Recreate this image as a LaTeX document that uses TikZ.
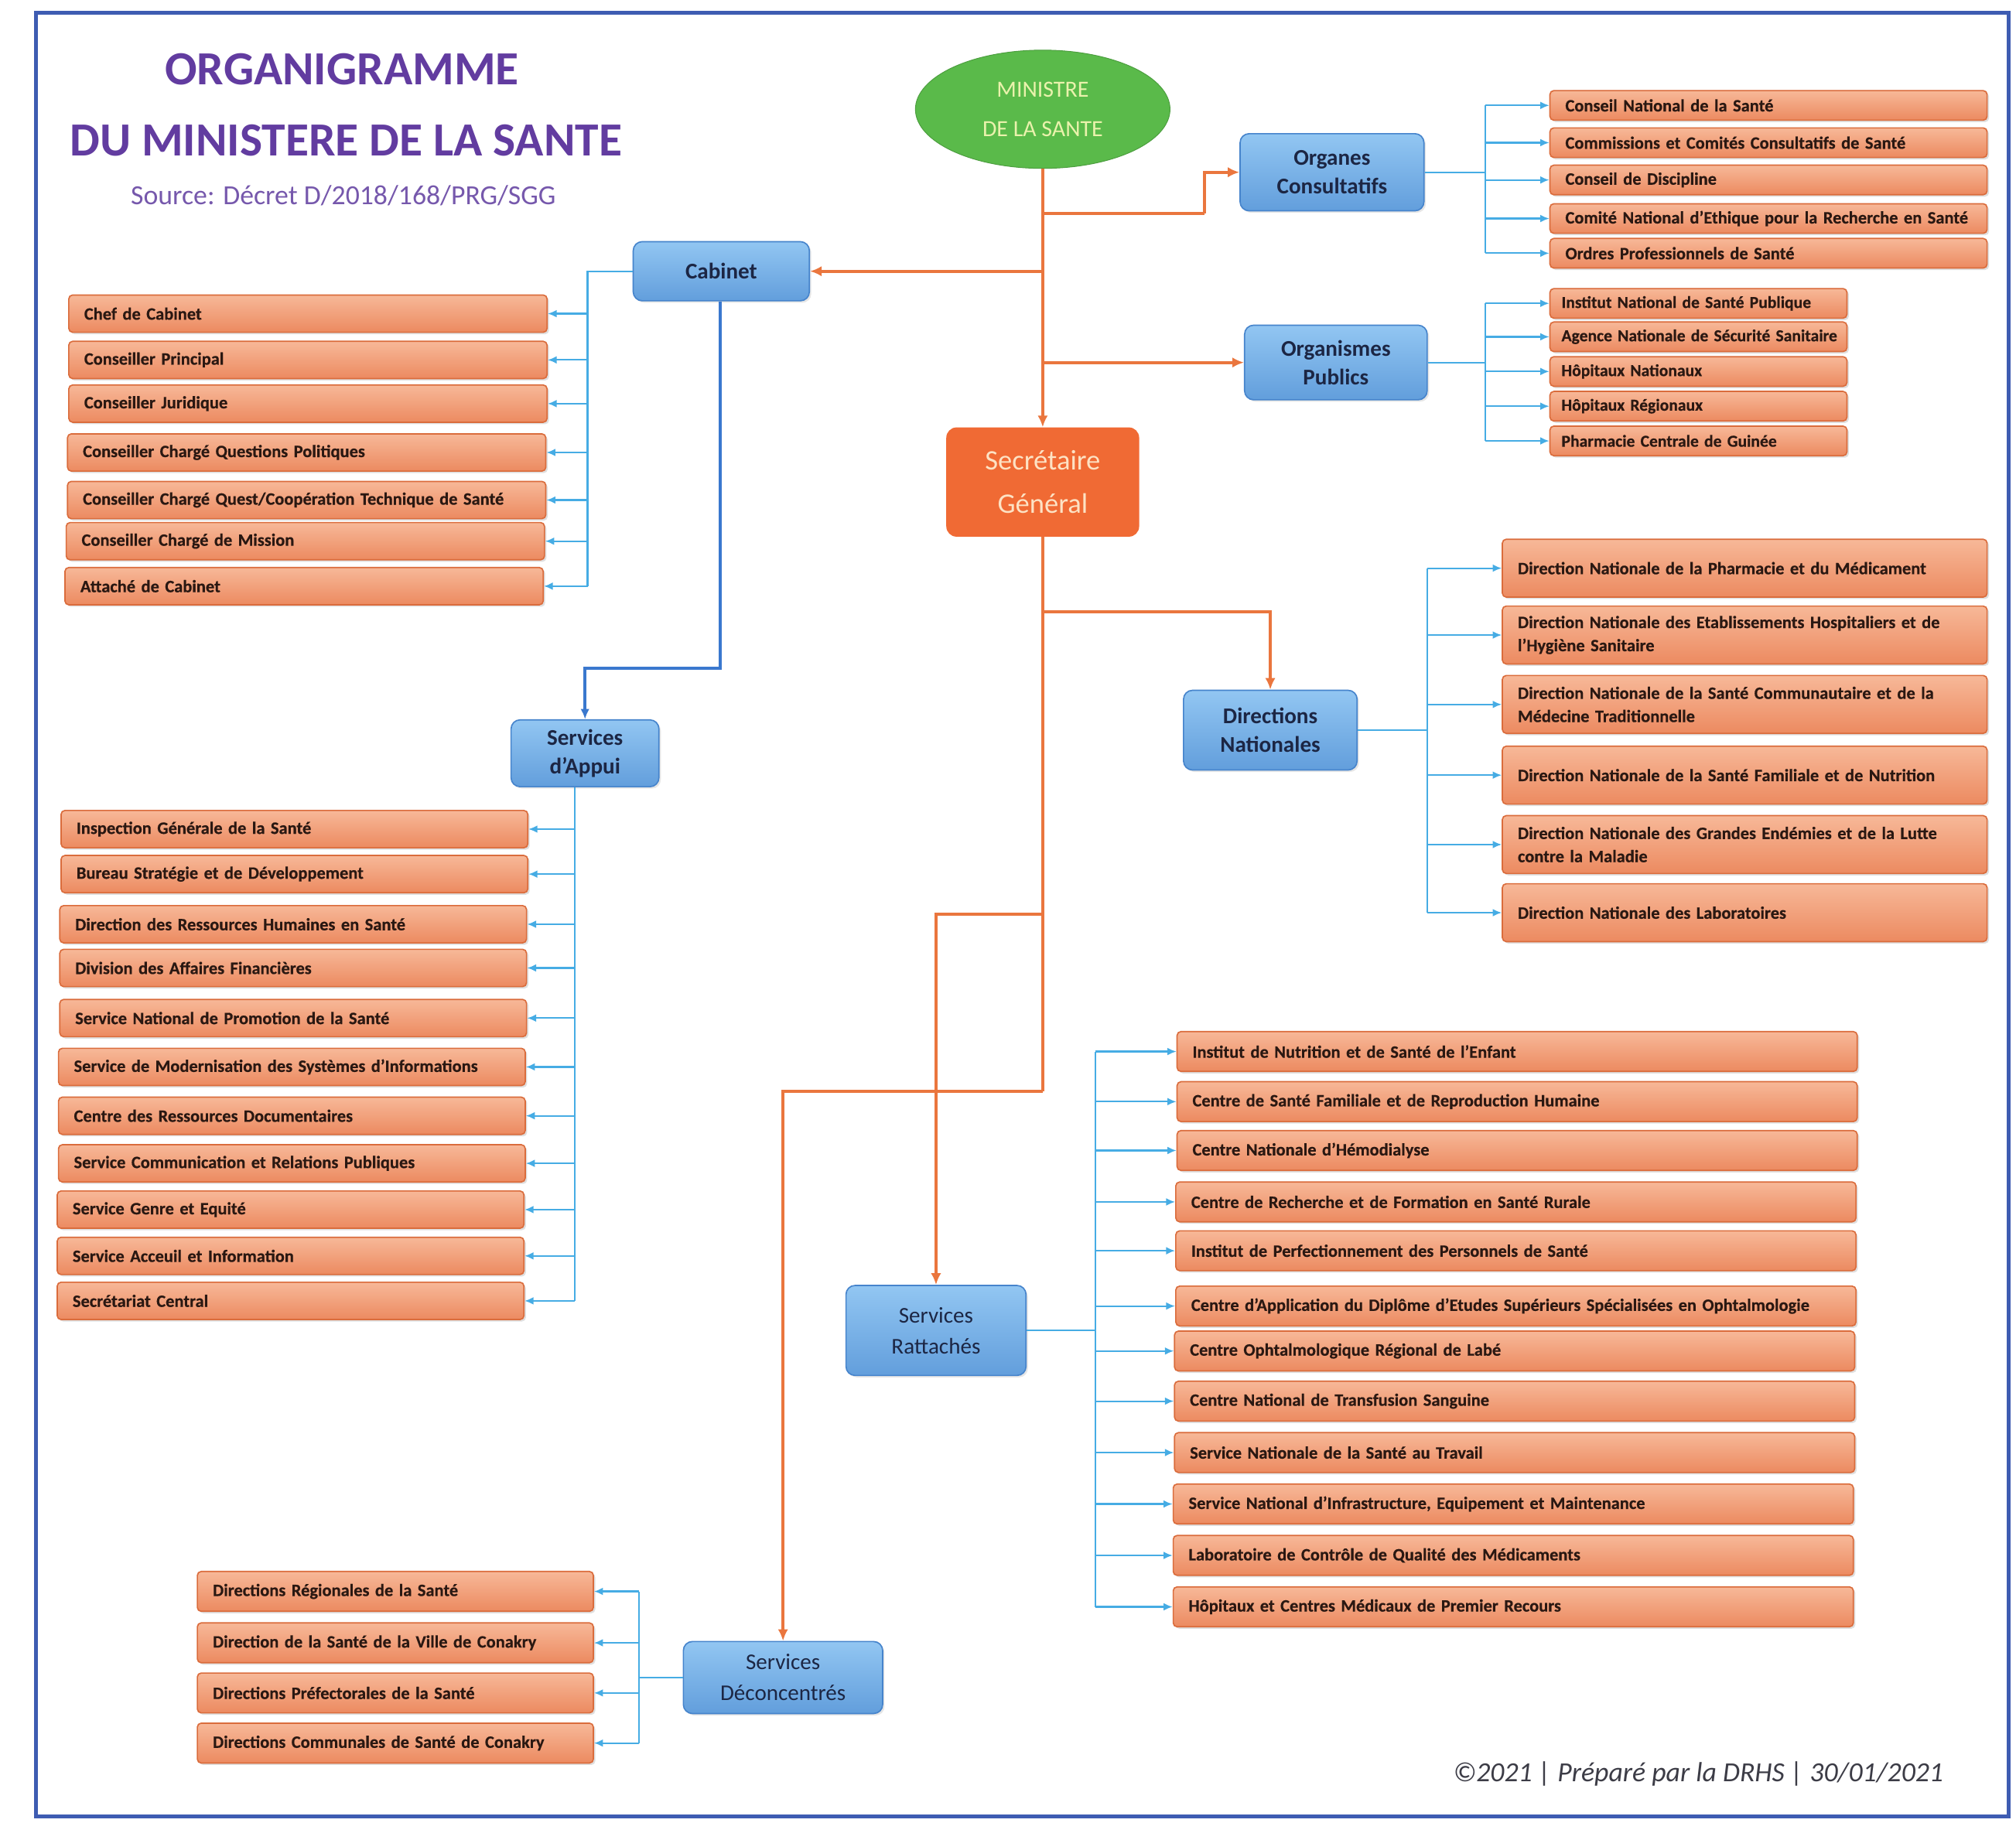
\documentclass[tikz,border=0pt]{standalone}
\usepackage{fontspec}
\setmainfont{Carlito}
\usetikzlibrary{arrows.meta,shapes.geometric,shadows}
\definecolor{itemtop}{RGB}{247,184,152}
\definecolor{itembot}{RGB}{236,138,96}
\definecolor{itemdraw}{RGB}{218,108,60}
\definecolor{itemtext}{RGB}{42,24,18}
\definecolor{cattop}{RGB}{146,198,242}
\definecolor{catbot}{RGB}{98,158,220}
\definecolor{catdraw}{RGB}{70,132,204}
\definecolor{cattext}{RGB}{28,38,68}
\definecolor{orgline}{RGB}{234,118,62}
\definecolor{bluline}{RGB}{70,172,228}
\definecolor{bluedark}{RGB}{58,120,206}
\definecolor{framecol}{RGB}{62,92,178}
\definecolor{titlecol}{RGB}{98,60,160}
\definecolor{srccol}{RGB}{118,88,172}
\definecolor{mingreen}{RGB}{90,186,74}
\definecolor{mintext}{RGB}{234,242,172}
\definecolor{sgfill}{RGB}{240,106,52}
\definecolor{sgtext}{RGB}{253,226,196}
\definecolor{foottext}{RGB}{60,60,70}
\begin{document}
\begin{tikzpicture}[x=1pt,y=-1pt,
  item/.style={draw=itemdraw, line width=1pt, rounded corners=3pt,
    top color=itemtop, bottom color=itembot, align=left,
    inner xsep=12pt, inner ysep=1pt, text=itemtext,
    font=\fontsize{13.5}{18}\selectfont\bfseries\addfontfeatures{FakeBold=0.5},
    drop shadow={shadow xshift=1.5pt, shadow yshift=-1.5pt, opacity=0.25}},
  ocitem/.style={item, anchor=west, minimum height=23pt, text width=316pt},
  opitem/.style={item, anchor=west, minimum height=23pt, inner xsep=9pt, text width=213pt,
    font=\fontsize{13}{16}\selectfont\bfseries\addfontfeatures{FakeBold=0.5}},
  cabitem/.style={item, anchor=west, minimum height=29pt, text width=348pt},
  appitem/.style={item, anchor=west, minimum height=29pt, text width=339pt},
  dnitem/.style={item, anchor=west, minimum height=45pt, text width=353pt},
  sritem/.style={item, anchor=west, minimum height=31pt, text width=505pt},
  sditem/.style={item, anchor=west, minimum height=31pt, text width=284pt},
  cat/.style={draw=catdraw, line width=1pt, rounded corners=7pt,
    top color=cattop, bottom color=catbot, text=cattext, align=center,
    font=\fontsize{17.5}{22}\selectfont\bfseries,
    drop shadow={shadow xshift=1.5pt, shadow yshift=-1.5pt, opacity=0.2}},
  catreg/.style={cat, font=\fontsize{17.5}{24}\selectfont},
  oline/.style={draw=orgline, line width=2.2pt},
  oarrow/.style={oline, -{Latex[length=9pt,width=8pt]}},
  bline/.style={draw=bluline, line width=1.3pt},
  barrow/.style={bline, -{Latex[length=7pt,width=6pt]}},
  bdark/.style={draw=bluedark, line width=2.2pt, -{Latex[length=8pt,width=7pt]}}
]
\useasboundingbox (0,0) rectangle (1568,1418);
\draw[framecol, line width=3pt] (28,10) rectangle (1562,1413);

% Title
\node[font=\fontsize{37}{40}\selectfont\bfseries, text=titlecol] (title1) at (266,54) {ORGANIGRAMME};
\node[font=\fontsize{37}{40}\selectfont\bfseries, text=titlecol] (title2) at (269,109) {DU MINISTERE DE LA SANTE};
\node[font=\fontsize{21.5}{24}\selectfont, text=srccol] (source) at (267,152) {Source: Décret D/2018/168/PRG/SGG};
\node[font=\fontsize{21.5}{24}\selectfont\itshape, text=foottext, anchor=east] (foot) at (1515,1380) {©2021 | Préparé par la DRHS | 30/01/2021};

% Top nodes
\node[ellipse, fill=mingreen, draw=mingreen!85!black, line width=0.6pt, minimum width=198pt, minimum height=92pt,
  text=mintext, font=\fontsize{18}{31}\selectfont, align=center] (min) at (811,85) {MINISTRE\\DE LA SANTE};
\node[rounded corners=8pt, fill=sgfill, minimum width=150pt, minimum height=85pt, text=sgtext,
  font=\fontsize{22}{34}\selectfont, align=center] (sg) at (811,375) {Secrétaire\\Général};

% Category boxes
\node[cat, minimum width=137pt, minimum height=46pt] (cab) at (561,211) {Cabinet};
\node[cat, minimum width=143pt, minimum height=60pt] (oc) at (1036,134) {Organes\\Consultatifs};
\node[cat, minimum width=142pt, minimum height=58pt] (op) at (1039,282) {Organismes\\Publics};
\node[cat, minimum width=115pt, minimum height=52pt] (sda) at (455,586) {Services\\d'Appui};
\node[cat, minimum width=135pt, minimum height=62pt] (dn) at (988,568) {Directions\\Nationales};
\node[catreg, minimum width=140pt, minimum height=70pt] (sr) at (728,1035) {Services\\Rattachés};
\node[catreg, minimum width=155pt, minimum height=56pt] (sd) at (609,1305) {Services\\Déconcentrés};

% Organes consultatifs list
\node[ocitem] (oc1) at (1205,82) {Conseil National de la Santé};
\node[ocitem] (oc2) at (1205,111) {Commissions et Comités Consultatifs de Santé};
\node[ocitem] (oc3) at (1205,140) {Conseil de Discipline};
\node[ocitem] (oc4) at (1205,170) {Comité National d'Ethique pour la Recherche en Santé};
\node[ocitem] (oc5) at (1205,197) {Ordres Professionnels de Santé};

% Organismes publics list
\node[opitem] (op1) at (1205,236) {Institut National de Santé Publique};
\node[opitem] (op2) at (1205,262) {\mbox{Agence Nationale de Sécurité Sanitaire}};
\node[opitem] (op3) at (1205,289) {Hôpitaux Nationaux};
\node[opitem] (op4) at (1205,316) {Hôpitaux Régionaux};
\node[opitem] (op5) at (1205,343) {Pharmacie Centrale de Guinée};

% Cabinet list
\node[cabitem] (c1) at (53,244) {Chef de Cabinet};
\node[cabitem] (c2) at (53,280) {Conseiller Principal};
\node[cabitem] (c3) at (53,314) {Conseiller Juridique};
\node[cabitem] (c4) at (52,352) {Conseiller Chargé Questions Politiques};
\node[cabitem] (c5) at (52,389) {\mbox{Conseiller Chargé Quest/Coopération Technique de Santé}};
\node[cabitem] (c6) at (51,421) {Conseiller Chargé de Mission};
\node[cabitem] (c7) at (50,456) {Attaché de Cabinet};

% Services d'appui list
\node[appitem] (a1) at (47,645) {Inspection Générale de la Santé};
\node[appitem] (a2) at (47,680) {Bureau Stratégie et de Développement};
\node[appitem] (a3) at (46,719) {Direction des Ressources Humaines en Santé};
\node[appitem] (a4) at (46,753) {Division des Affaires Financières};
\node[appitem] (a5) at (46,792) {Service National de Promotion de la Santé};
\node[appitem] (a6) at (45,830) {Service de Modernisation des Systèmes d'Informations};
\node[appitem] (a7) at (45,868) {Centre des Ressources Documentaires};
\node[appitem] (a8) at (45,905) {Service Communication et Relations Publiques};
\node[appitem] (a9) at (44,941) {Service Genre et Equité};
\node[appitem] (a10) at (44,977) {Service Acceuil et Information};
\node[appitem] (a11) at (44,1012) {Secrétariat Central};

% Directions nationales list
\node[dnitem] (d1) at (1168,442) {Direction Nationale de la Pharmacie et du Médicament};
\node[dnitem] (d2) at (1168,494) {Direction Nationale des Etablissements Hospitaliers et de\\l'Hygiène Sanitaire};
\node[dnitem] (d3) at (1168,548) {Direction Nationale de la Santé Communautaire et de la\\Médecine Traditionnelle};
\node[dnitem] (d4) at (1168,603) {Direction Nationale de la Santé Familiale et de Nutrition};
\node[dnitem] (d5) at (1168,657) {Direction Nationale des Grandes Endémies et de la Lutte\\contre la Maladie};
\node[dnitem] (d6) at (1168,710) {Direction Nationale des Laboratoires};

% Services rattaches list
\node[sritem] (r1) at (915,818) {Institut de Nutrition et de Santé de l'Enfant};
\node[sritem] (r2) at (915,857) {Centre de Santé Familiale et de Reproduction Humaine};
\node[sritem] (r3) at (915,895) {Centre Nationale d'Hémodialyse};
\node[sritem] (r4) at (914,935) {Centre de Recherche et de Formation en Santé Rurale};
\node[sritem] (r5) at (914,973) {Institut de Perfectionnement des Personnels de Santé};
\node[sritem] (r6) at (914,1016) {\mbox{Centre d'Application du Diplôme d'Etudes Supérieurs Spécialisées en Ophtalmologie}};
\node[sritem] (r7) at (913,1051) {Centre Ophtalmologique Régional de Labé};
\node[sritem] (r8) at (913,1090) {Centre National de Transfusion Sanguine};
\node[sritem] (r9) at (913,1130) {Service Nationale de la Santé au Travail};
\node[sritem] (r10) at (912,1170) {Service National d'Infrastructure, Equipement et Maintenance};
\node[sritem] (r11) at (912,1210) {Laboratoire de Contrôle de Qualité des Médicaments};
\node[sritem] (r12) at (912,1250) {Hôpitaux et Centres Médicaux de Premier Recours};

% Services deconcentres list
\node[sditem] (s1) at (153,1238) {Directions Régionales de la Santé};
\node[sditem] (s2) at (153,1278) {Direction de la Santé de la Ville de Conakry};
\node[sditem] (s3) at (153,1317) {Directions Préfectorales de la Santé};
\node[sditem] (s4) at (153,1356) {Directions Communales de Santé de Conakry};

% Orange hierarchy connectors
\coordinate (jo) at (811,166);
\coordinate (jo2) at (937,166);
\coordinate (jc) at (811,211);
\coordinate (jp) at (811,282);
\coordinate (jd) at (811,476);
\coordinate (jr) at (811,711);
\coordinate (js) at (811,849);
\draw[oarrow] (min.south) -- (sg.north);
\draw[oline] (jo) -- (jo2);
\draw[oarrow] (jo2) |- (oc.west);
\draw[oarrow] (jc) -- (cab.east);
\draw[oarrow] (jp) -- (op.west);
\draw[oline] (sg.south) -- (js);
\draw[oarrow] (jd) -| (dn.north);
\draw[oarrow] (jr) -| (sr.north);
\draw[oarrow] (js) -| (sd.north);

% Blue buses
\coordinate (ocbus) at (1155,0);
\coordinate (opbus) at (1155,0);
\coordinate (cabbus) at (457,0);
\coordinate (cabdrop) at (560,520);
\coordinate (sdabus) at (447,0);
\coordinate (dnbus) at (1110,0);
\coordinate (srbus) at (852,0);
\coordinate (sdbus) at (497,0);

\draw[bline] (oc.east) -- (ocbus |- oc.east);
\draw[bline] (ocbus |- oc1.west) -- (ocbus |- oc5.west);
\foreach \i in {1,...,5} \draw[barrow] (ocbus |- oc\i.west) -- (oc\i.west);

\draw[bline] (op.east) -- (opbus |- op.east);
\draw[bline] (opbus |- op1.west) -- (opbus |- op5.west);
\foreach \i in {1,...,5} \draw[barrow] (opbus |- op\i.west) -- (op\i.west);

\draw[bline] (cab.west) -- (cabbus |- cab.west) -- (cabbus |- c7.east);
\foreach \i in {1,...,7} \draw[barrow] (cabbus |- c\i.east) -- (c\i.east);

\draw[bdark] (cabdrop |- cab.south) -- (cabdrop) -| (sda.north);

\draw[bline] (sdabus |- sda.south) -- (sdabus |- a11.east);
\foreach \i in {1,...,11} \draw[barrow] (sdabus |- a\i.east) -- (a\i.east);

\draw[bline] (dn.east) -- (dnbus |- dn.east);
\draw[bline] (dnbus |- d1.west) -- (dnbus |- d6.west);
\foreach \i in {1,...,6} \draw[barrow] (dnbus |- d\i.west) -- (d\i.west);

\draw[bline] (sr.east) -- (srbus |- sr.east);
\draw[bline] (srbus |- r1.west) -- (srbus |- r12.west);
\foreach \i in {1,...,12} \draw[barrow] (srbus |- r\i.west) -- (r\i.west);

\draw[bline] (sd.west) -- (sdbus |- sd.west);
\draw[bline] (sdbus |- s1.east) -- (sdbus |- s4.east);
\foreach \i in {1,...,4} \draw[barrow] (sdbus |- s\i.east) -- (s\i.east);
\end{tikzpicture}
\end{document}
